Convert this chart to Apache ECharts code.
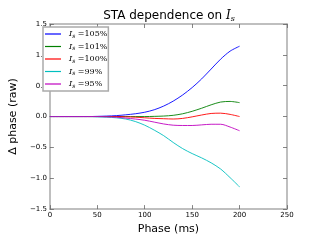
<!DOCTYPE html>
<html><head><meta charset="utf-8">
<script src="https://cdn.jsdelivr.net/npm/echarts@6/dist/echarts.min.js"></script>
<style>html,body{margin:0;padding:0;background:#fff}#c{width:320px;height:240px}</style>
</head><body><div id="c"></div>
<script>
const phase = [0,10,20,30,40,50,60,70,80,90,100,110,120,130,140,150,160,170,180,190,200];
const is105 = [0,0,0,0,0,0.003,0.008,0.015,0.028,0.045,0.07,0.11,0.17,0.25,0.35,0.47,0.61,0.77,0.93,1.06,1.14];
const is101 = [0,0,0,0,0,0,0,0,0,0,0,0.003,0.008,0.02,0.045,0.085,0.135,0.19,0.235,0.245,0.225];
const is100 = [0,0,0,0,0,0,0,0,-0.005,-0.01,-0.02,-0.03,-0.035,-0.04,-0.03,-0.005,0.025,0.05,0.055,0.035,0.0];
const is99 = [0,0,0,0,0,-0.005,-0.01,-0.02,-0.04,-0.08,-0.14,-0.22,-0.31,-0.42,-0.52,-0.6,-0.67,-0.75,-0.85,-0.99,-1.14];
const is95 = [0,0,0,0,0,0,-0.005,-0.01,-0.025,-0.04,-0.06,-0.09,-0.12,-0.14,-0.145,-0.145,-0.135,-0.125,-0.125,-0.17,-0.23];
const xTicks = [0,50,100,150,200,250];
const yTicks = [-1.5,-1.0,-0.5,0.0,0.5,1.0,1.5];
const names = ['105%','101%','100%','99%','95%'];
const colors = ['#0000ff','#008000','#ff0000','#00bfbf','#bf00bf'];
const values = [is105,is101,is100,is99,is95];

const chart = echarts.init(document.getElementById('c'));
const frame = {onZero:false,lineStyle:{color:'#aaa',width:1.5}};
const tickStyle = {show:true,inside:true,length:4,lineStyle:{color:'#666',width:0.8}};
const fmtY = v => (v<0?'\u2212':'') + Math.abs(v).toFixed(1);
chart.setOption({
  animation:false,
  title:{text:'{t|STA dependence on }{i|I}{s|s}',left:164,top:3,textAlign:'center',
    textStyle:{rich:{t:{fontFamily:'DejaVu Sans',fontWeight:'normal',fontSize:12,color:'#000'},
      i:{fontFamily:'DejaVu Serif',fontWeight:'normal',fontStyle:'italic',fontSize:12,color:'#000'},
      s:{fontFamily:'DejaVu Serif',fontWeight:'normal',fontStyle:'italic',fontSize:8,color:'#000',padding:[7,0,0,0]}}}},
  legend:{left:43,top:27,orient:'vertical',itemGap:3.5,itemWidth:16,itemHeight:8.3,
    icon:'path://M0,4.4L16,4.4L16,5.6L0,5.6Z',
    borderColor:'#aaa',borderWidth:1.5,padding:[3,1,2,2],backgroundColor:'#fff',
    data:names,
    formatter:n=>'{i|I}{s|s}{n| =' + n + '}',
    textStyle:{padding:[0,0,0,3],rich:{i:{fontFamily:'DejaVu Serif',fontStyle:'italic',fontSize:8,color:'#000'},
      s:{fontFamily:'DejaVu Serif',fontStyle:'italic',fontSize:6,color:'#000',padding:[4,0,0,0]},
      n:{fontFamily:'DejaVu Serif',fontSize:8,color:'#000'}}}},
  grid:{left:41,right:33,top:24,bottom:25},
  xAxis:[{type:'value',min:0,max:250,interval:50,axisLine:frame,axisTick:tickStyle,splitLine:{show:false},
    axisLabel:{fontSize:7,color:'#000',fontFamily:'DejaVu Sans',margin:3},
    name:'Phase (ms)',nameLocation:'middle',nameGap:12,nameTextStyle:{fontSize:11,fontFamily:'DejaVu Sans',color:'#000'}},
    {type:'value',position:'top',min:0,max:250,interval:50,axisLine:frame,axisTick:tickStyle,axisLabel:{show:false},splitLine:{show:false}}],
  yAxis:[{type:'value',min:-1.5,max:1.5,interval:0.5,axisLine:frame,axisTick:tickStyle,splitLine:{show:false},
    axisLabel:{fontSize:7,color:'#000',fontFamily:'DejaVu Sans',margin:3,formatter:fmtY},
    name:'\u0394 phase (raw)',nameLocation:'middle',nameGap:21,nameTextStyle:{fontSize:11,fontFamily:'DejaVu Sans',color:'#000'}},
    {type:'value',position:'right',min:-1.5,max:1.5,interval:0.5,axisLine:frame,axisTick:tickStyle,axisLabel:{show:false},splitLine:{show:false}}],
  series:names.map((n,i)=>({name:n,type:'line',smooth:0.3,showSymbol:false,symbol:'none',
    lineStyle:{color:colors[i],width:0.9},itemStyle:{color:colors[i]},
    data:phase.map((x,j)=>[x,values[i][j]])}))
});
</script></body></html>
